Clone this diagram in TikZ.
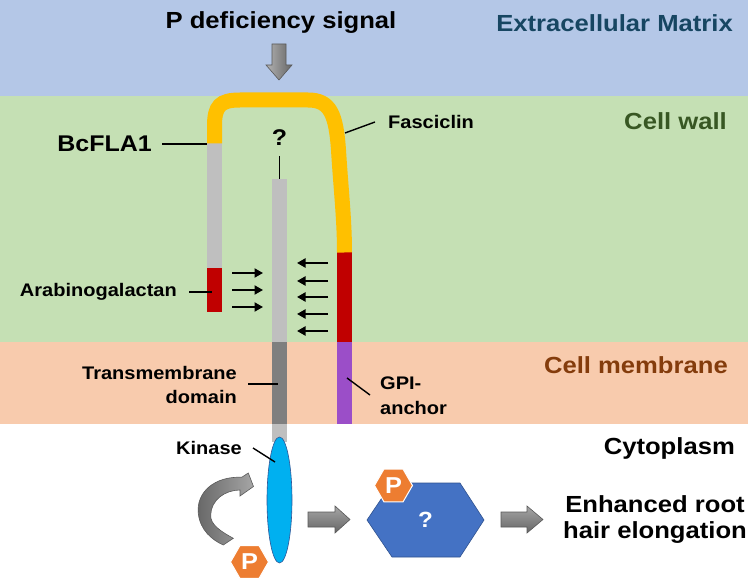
\documentclass[tikz,border=0pt]{standalone}
\usepackage{fontspec}
\setmainfont{Liberation Sans}[FakeStretch=1.1]
\usetikzlibrary{shapes.geometric,arrows.meta}
\definecolor{bgblue}{HTML}{B4C7E7}
\definecolor{bggreen}{HTML}{C5E0B4}
\definecolor{bgpeach}{HTML}{F8CBAD}
\definecolor{ecmtext}{RGB}{23,70,98}
\definecolor{walltext}{HTML}{385723}
\definecolor{memtext}{HTML}{843C0C}
\definecolor{lgray}{HTML}{BFBFBF}
\definecolor{dgray}{HTML}{7F7F7F}
\definecolor{redc}{HTML}{C00000}
\definecolor{purp}{RGB}{155,78,200}
\definecolor{orangeband}{HTML}{FFC000}
\definecolor{orangeP}{HTML}{ED7D31}
\definecolor{bluehex}{HTML}{4472C4}
\definecolor{bluehexb}{HTML}{2F528F}
\definecolor{kincyan}{HTML}{00B0F0}
\definecolor{kinborder}{HTML}{2F5597}
\tikzset{
  lbl/.style={inner sep=0pt, font=\bfseries\fontsize{18.2}{24}\selectfont},
  biglbl/.style={inner sep=0pt, font=\bfseries\fontsize{23.3}{26}\selectfont},
  leader/.style={draw=black, line width=1.4pt},
  smallarr/.style={draw=black, line width=2pt, -{Triangle[length=8.5pt,width=9pt]}},
  blockarr/.style={draw=black!65, line width=0.6pt, top color=black!35, bottom color=black!60},
  phex/.style={regular polygon, regular polygon sides=6, minimum size=38pt, inner sep=0pt,
    fill=orangeP, draw=white, line width=1pt, text=white, font=\bfseries\fontsize{23}{23}\selectfont}
}
\begin{document}
\begin{tikzpicture}[x=1pt,y=-1pt]
\useasboundingbox (0,0) rectangle (748,580);
% background bands
\fill[bgblue] (0,0) rectangle (748,96);
\fill[bggreen] (0,96) rectangle (748,342);
\fill[bgpeach] (0,342) rectangle (748,424);
\fill[white] (0,424) rectangle (748,580);

% region labels
\node[biglbl, text=ecmtext, anchor=east] (ecm) at (733,23) {Extracellular Matrix};
\node[biglbl, text=walltext, anchor=east] (wall) at (727,121) {Cell wall};
\node[biglbl, text=memtext, anchor=east] (mem) at (728,365) {Cell membrane};
\node[biglbl, anchor=east] (cyto) at (735,448) {Cytoplasm};

% signal
\node[biglbl] (sig) at (281,23) {P deficiency signal};
\draw[blockarr, left color=black!30, right color=black!60]
  (272,44) -- (286,44) -- (286,65) -- (292,65) -- (279,80) -- (266,65) -- (272,65) -- cycle;

% left arm (BcFLA1 part)
\fill[lgray] (207,143) rectangle (222,268);
\fill[redc] (207,268) rectangle (222,312);
% middle receptor bar
\fill[lgray] (272,179) rectangle (287,342);
\fill[dgray] (272,342) rectangle (287,424);
\fill[lgray] (272,424) rectangle (287,442);
% right arm
\fill[redc] (337,252) rectangle (352,342);
\fill[purp] (337,342) rectangle (352,424);
% fasciclin band
\draw[orangeband, line width=15pt, line cap=butt]
  (214.5,143.5) -- (214.5,126) .. controls (214.5,106) and (220,100) .. (240,100)
  -- (308,100) .. controls (330,100) and (336,114) .. (338.5,150)
  .. controls (341,190) and (344.5,220) .. (344.5,252.5);

% small arrows
\foreach \yy in {273,290,307} \draw[smallarr] (232,\yy) -- (263,\yy);
\foreach \yy in {263,281,297,314,331} \draw[smallarr] (328,\yy) -- (297,\yy);

% labels with leaders
\node[inner sep=0pt, font=\bfseries\fontsize{22.7}{26}\selectfont, anchor=east] (bcfla) at (152,144) {BcFLA1};
\coordinate (bcflaend) at (207,144);
\draw[leader] ([xshift=10pt]bcfla.east) -- (bcflaend);

\node[inner sep=0pt, font=\bfseries\fontsize{22.7}{26}\selectfont] (qm) at (279.5,138) {?};
\coordinate (barTop) at (279.5,179);
\draw[leader] (279.5,156) -- (barTop);

\node[lbl, anchor=west] (fas) at (388,122) {Fasciclin};
\coordinate (fasend) at (345,133);
\draw[leader] (375,122) -- (fasend);

\node[lbl, anchor=east] (arab) at (177,292) {Arabinogalactan};
\coordinate (arabend) at (212,292);
\draw[leader] ([xshift=12pt]arab.east) -- (arabend);

\node[lbl, anchor=east, align=right] (tm) at (237,385) {Transmembrane\\domain};
\coordinate (tmend) at (278,384);
\draw[leader] (248,384) -- (tmend);

\node[lbl, anchor=west, align=left, font=\bfseries\fontsize{18.2}{25}\selectfont] (gpi) at (380,396) {GPI-\\anchor};
\coordinate (gpiend) at (347,378);
\draw[leader] (gpiend) -- (370,395);

% kinase
\node[ellipse, minimum width=25pt, minimum height=126pt, inner sep=0pt, fill=kincyan, draw=kinborder, line width=0.6pt] (kin) at (279.5,500) {};
\node[lbl, anchor=east] (kinlbl) at (242,448) {Kinase};
\coordinate (kinend) at (275,462);
\draw[leader] (253,448) -- (kinend);

% curved arrow
\draw[draw=black!65, line width=0.6pt, left color=black!60, right color=black!35]
  (241.7,477.3) .. controls (215,476) and (196,492) .. (198.3,513.3)
  .. controls (200,530) and (212,540) .. (223.3,545) -- (233.3,538.3)
  .. controls (222,532) and (210,525) .. (210.7,515)
  .. controls (211,500) and (225,490) .. (240,490)
  -- (240,496) -- (253.5,486.5) -- (248.3,473) -- cycle;

\node[phex] (p1) at (249.5,562) {P};

% block arrow 1
\draw[blockarr] (308,512) -- (335,512) -- (335,506) -- (350,519.5) -- (335,533) -- (335,527) -- (308,527) -- cycle;

% big hexagon
\coordinate (hexc) at (425.5,520);
\draw[fill=bluehex, draw=bluehexb, line width=0.6pt]
  (367,520) -- (392,483) -- (460,483) -- (484,520) -- (460,557) -- (392,557) -- cycle;
\node[inner sep=0pt, text=white, font=\bfseries\fontsize{22}{22}\selectfont] (hq) at (hexc) {?};
\node[phex] (p2) at (393.5,485.5) {P};

% block arrow 2
\draw[blockarr] (501,512) -- (527,512) -- (527,506) -- (543,519.5) -- (527,533) -- (527,527) -- (501,527) -- cycle;

\node[inner sep=0pt, align=center, font=\bfseries\fontsize{23.3}{26}\selectfont] (enh) at (655,520) {Enhanced root\\hair elongation};
\end{tikzpicture}
\end{document}
